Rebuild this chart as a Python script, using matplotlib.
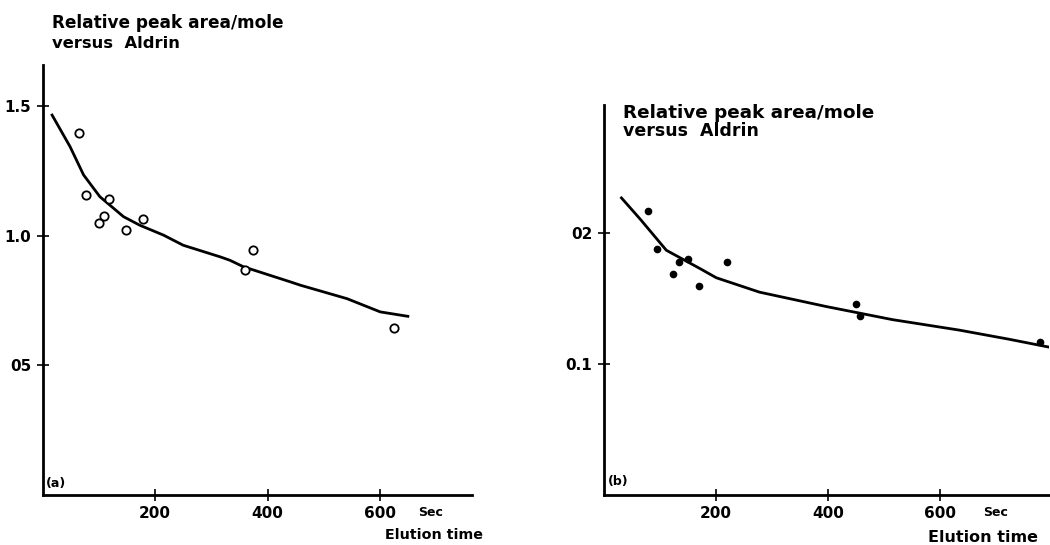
import matplotlib
matplotlib.use("Agg")
import matplotlib.pyplot as plt

# ---- data: panel (a) ----
a_pts_x = [65, 77, 119, 110, 100, 148, 178, 374, 359, 625]
a_pts_y = [1.395, 1.158, 1.14, 1.075, 1.05, 1.021, 1.065, 0.945, 0.867, 0.645]
a_curve_x = [17, 22, 49, 73, 102, 144, 173, 215, 250, 316, 333, 357, 440, 458, 541, 600, 649]
a_curve_y = [1.465, 1.446, 1.343, 1.234, 1.15, 1.073, 1.04, 1.002, 0.963, 0.918, 0.905, 0.88, 0.822, 0.809, 0.757, 0.706, 0.689]
a_yticks = [0.5, 1.0, 1.5]
a_yticklabels = ["05", "1.0", "1.5"]

# ---- data: panel (b) ----
b_pts_x = [80, 96, 135, 151, 123, 220, 170, 450, 458, 778]
b_pts_y = [0.217, 0.188, 0.178, 0.180, 0.169, 0.178, 0.160, 0.146, 0.137, 0.117]
b_curve_x = [32, 65, 112, 172, 201, 278, 397, 515, 634, 723, 794]
b_curve_y = [0.227, 0.211, 0.187, 0.173, 0.166, 0.155, 0.144, 0.134, 0.126, 0.119, 0.113]
b_yticks = [0.1, 0.2]
b_yticklabels = ["0.1", "02"]

xticks = [200, 400, 600]
xticklabels = ["200", "400", "600"]

plt.rcParams['font.family'] = ['DejaVu Sans']
plt.rcParams['font.weight'] = 'bold'

fig = plt.figure(figsize=(10.5, 5.45), dpi=100)
W, H = 1050, 545

def style(ax, xmax, ymax, yticks, yticklabels):
    ax.set_xlim(0, xmax)
    ax.set_ylim(0, ymax)
    for s in ['top', 'right']:
        ax.spines[s].set_visible(False)
    for s in ['left', 'bottom']:
        ax.spines[s].set_linewidth(2)
        ax.spines[s].set_color('black')
    ax.set_xticks(xticks)
    ax.set_xticklabels(xticklabels, fontsize=11, fontweight='bold')
    ax.set_yticks(yticks)
    ax.set_yticklabels(yticklabels, fontsize=11, fontweight='bold')
    ax.tick_params(direction='inout', length=8, width=1.2, pad=4)
    ax.patch.set_alpha(0)

# panel (a)
axa = fig.add_axes([42.5 / W, (H - 495) / H, (472 - 42.5) / W, (495 - 65) / H])
style(axa, 763, 1.658, a_yticks, a_yticklabels)
axa.plot(a_curve_x, a_curve_y, color='black', lw=2)
axa.plot(a_pts_x, a_pts_y, 'o', mfc='white', mec='black', ms=6, mew=1.3, ls='none')

# panel (b)
axb = fig.add_axes([603.5 / W, (H - 495) / H, (1049 - 603.5) / W, (495 - 105) / H])
style(axb, 794, 0.298, b_yticks, b_yticklabels)
axb.plot(b_curve_x, b_curve_y, color='black', lw=2)
axb.plot(b_pts_x, b_pts_y, 'o', color='black', ms=4.5, ls='none')

# texts
def ftext(x, y, s, size, **kw):
    fig.text(x / W, 1 - y / H, s, fontsize=size, fontweight='bold', va='center', **kw)

ftext(52, 23, "Relative peak area/mole", 12.2)
ftext(52, 43, "versus  Aldrin", 11.8)
ftext(623, 113, "Relative peak area/mole", 13.2)
ftext(623, 131, "versus  Aldrin", 12.5)

ftext(46, 484, "(a)", 9)
ftext(608, 482, "(b)", 9)

ftext(418, 512, "Sec", 9)
ftext(983, 512, "Sec", 9)
ftext(385, 535, "Elution time", 10.3)
ftext(928, 537, "Elution time", 11.5)

fig.savefig("out.png", dpi=100)
